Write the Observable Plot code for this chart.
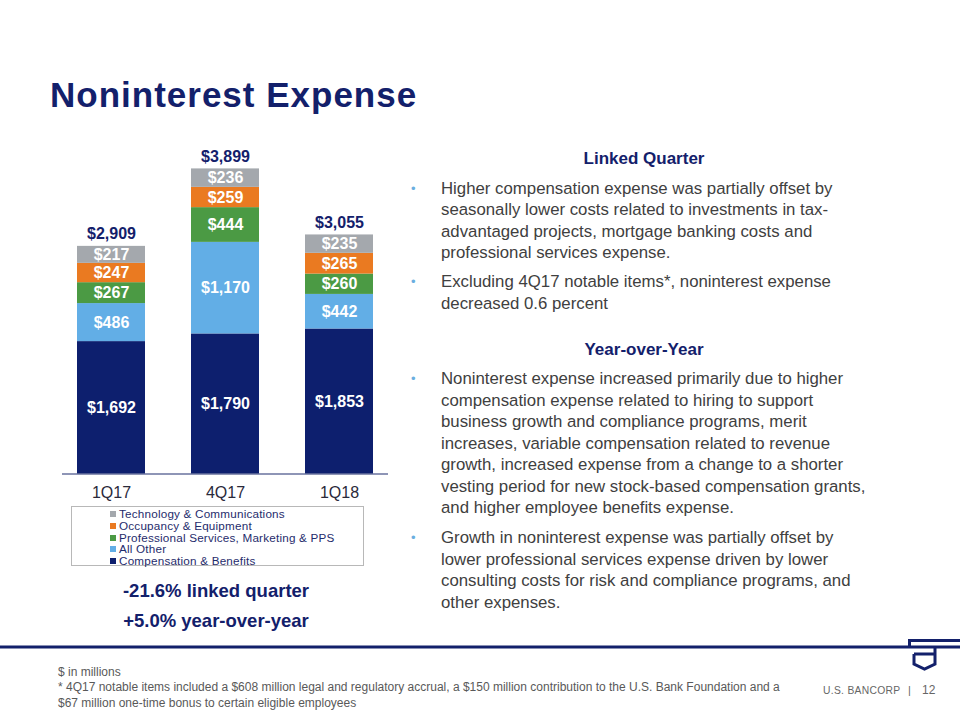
<!DOCTYPE html>
<html>
<head>
<meta charset="utf-8">
<script src="https://cdn.jsdelivr.net/npm/d3@7"></script>
<script src="https://cdn.jsdelivr.net/npm/@observablehq/plot@0.6"></script>
<style>
  html, body { margin: 0; padding: 0; background: #fff; }
  #page { position: relative; width: 960px; height: 720px; overflow: hidden; background: #fff;
          font-family: "Liberation Sans", Arial, sans-serif; }
  .abs { position: absolute; white-space: nowrap; }
  #title { left: 50px; top: 77.4px; font-size: 35px; line-height: 35px; letter-spacing: 1px; font-weight: bold; color: #13206b; }
  .head { left: 444px; width: 400px; text-align: center; font-size: 17px; line-height: 17px; font-weight: bold; color: #13206b; }
  .para { left: 441px; font-size: 16.8px; line-height: 21.5px; color: #404040; }
  .bullet { position: absolute; left: -30px; top: 0; font-size: 13px; color: #6aaee0; }
  #chart { left: 0; top: 140px; }
  #legend { left: 71px; top: 506px; width: 291px; height: 58px; border: 1px solid #b8b8b8; }
  .li { position: absolute; left: 38px; font-size: 11.7px; line-height: 11.8px; letter-spacing: 0.2px; color: #1f2c6c; white-space: nowrap; }
  .sw { display: inline-block; width: 6px; height: 6px; margin-right: 3px; vertical-align: 1px; }
  .stat { left: 116px; width: 200px; text-align: center; font-size: 18.5px; line-height: 18.5px; font-weight: bold; color: #13206b; }
  #foot { left: 58px; top: 664.5px; font-size: 12px; line-height: 15.5px; color: #595959; }
  .brand { top: 684.5px; font-size: 11px; line-height: 11px; color: #666; }
</style>
</head>
<body>
<div id="page">
  <div id="title" class="abs">Noninterest Expense</div>

  <div id="chart" class="abs"></div>
  <div id="legend" class="abs"></div>
  <div class="abs stat" style="top:581.6px">-21.6% linked quarter</div>
  <div class="abs stat" style="top:612px">+5.0% year-over-year</div>

  <div class="abs head" style="top:149.6px">Linked Quarter</div>
  <div class="abs para" style="top:177.7px"><span class="bullet">•</span>Higher compensation expense was partially offset by<br>seasonally lower costs related to investments in tax-<br>advantaged projects, mortgage banking costs and<br>professional services expense.</div>
  <div class="abs para" style="top:271.1px"><span class="bullet">•</span>Excluding 4Q17 notable items*, noninterest expense<br>decreased 0.6 percent</div>

  <div class="abs head" style="top:341.3px">Year-over-Year</div>
  <div class="abs para" style="top:368.4px"><span class="bullet">•</span>Noninterest expense increased primarily due to higher<br>compensation expense related to hiring to support<br>business growth and compliance programs, merit<br>increases, variable compensation related to revenue<br>growth, increased expense from a change to a shorter<br>vesting period for new stock-based compensation grants,<br>and higher employee benefits expense.</div>
  <div class="abs para" style="top:527.4px"><span class="bullet">•</span>Growth in noninterest expense was partially offset by<br>lower professional services expense driven by lower<br>consulting costs for risk and compliance programs, and<br>other expenses.</div>

  <svg class="abs" style="left:0;top:0" width="960" height="720" pointer-events="none">
    <g fill="none" stroke="#13206b" stroke-width="3">
      <line x1="0" y1="647" x2="960" y2="647"/>
      <line x1="908" y1="640.5" x2="960" y2="640.5"/>
      <line x1="909.5" y1="640.5" x2="909.5" y2="647"/>
      <path d="M914,654 H935 V647 M935,654 V664 L924.5,669 L914,664 V654"/>
    </g>
  </svg>

  <div id="foot" class="abs">$ in millions<br>* 4Q17 notable items included a $608 million legal and regulatory accrual, a $150 million contribution to the U.S. Bank Foundation and a<br>$67 million one-time bonus to certain eligible employees</div>
  <div class="abs brand" style="left:823px; width:75px; font-size:10.3px; letter-spacing:0.3px; top:685px">U.S. BANCORP</div>
  <div class="abs brand" style="left:908px">|</div>
  <div class="abs brand" style="left:922px; font-size:12px; line-height:12px; top:684px">12</div>
</div>

<script>
const quarters = ["1Q17", "4Q17", "1Q18"];
const categories = [
  "Compensation & Benefits",
  "All Other",
  "Professional Services, Marketing & PPS",
  "Occupancy & Equipment",
  "Technology & Communications"
];
const legendOrder = [
  "Technology & Communications",
  "Occupancy & Equipment",
  "Professional Services, Marketing & PPS",
  "All Other",
  "Compensation & Benefits"
];
const compensation = [1692, 1790, 1853];
const allOther = [486, 1170, 442];
const professional = [267, 444, 260];
const occupancy = [247, 259, 265];
const technology = [217, 236, 235];
const totals = [2909, 3899, 3055];
const colors = ["#0d1f6e", "#62aee6", "#4b9a44", "#ea7a21", "#a4a8ad"];

const seriesValues = [compensation, allOther, professional, occupancy, technology];
const rows = [];
quarters.forEach((q, i) => {
  categories.forEach((c, j) => rows.push({q, cat: c, v: seriesValues[j][i]}));
});
const totalRows = quarters.map((q, i) => ({q, total: totals[i]}));
const fmt = d3.format(",");
const navy = "#13206b";

const chart = Plot.plot({
  width: 400,
  height: 370,
  marginTop: 20.5,
  marginBottom: 36.5,
  marginLeft: 62,
  marginRight: 12,
  style: {fontFamily: "'Liberation Sans', Arial, sans-serif", fontSize: "16px", color: "#2a2a3a", background: "transparent"},
  x: {domain: quarters, paddingInner: 0.4, paddingOuter: 0.12, label: null, tickSize: 0, tickPadding: 13},
  y: {domain: [0, 4000], axis: null},
  color: {domain: categories, range: colors},
  marks: [
    Plot.barY(rows, {x: "q", y: "v", z: "cat", fill: "cat"}),
    Plot.text(rows, Plot.stackY({x: "q", y: "v", z: "cat", text: d => "$" + fmt(d.v),
      fill: "white", fontWeight: "bold", fontSize: 16})),
    Plot.text(totalRows, {x: "q", y: "total", text: d => "$" + fmt(d.total), dy: -12,
      fill: navy, fontWeight: "bold", fontSize: 16}),
    Plot.ruleY([0], {stroke: "#1f2d6e", strokeWidth: 1.2})
  ]
});
document.getElementById("chart").appendChild(chart);

const legend = document.getElementById("legend");
legendOrder.forEach((c, i) => {
  const d = document.createElement("div");
  d.className = "li";
  d.style.top = (0.8 + i * 11.85) + "px";
  const sw = document.createElement("span");
  sw.className = "sw";
  sw.style.background = colors[categories.indexOf(c)];
  d.appendChild(sw);
  d.appendChild(document.createTextNode(c));
  legend.appendChild(d);
});
</script>
</body>
</html>
